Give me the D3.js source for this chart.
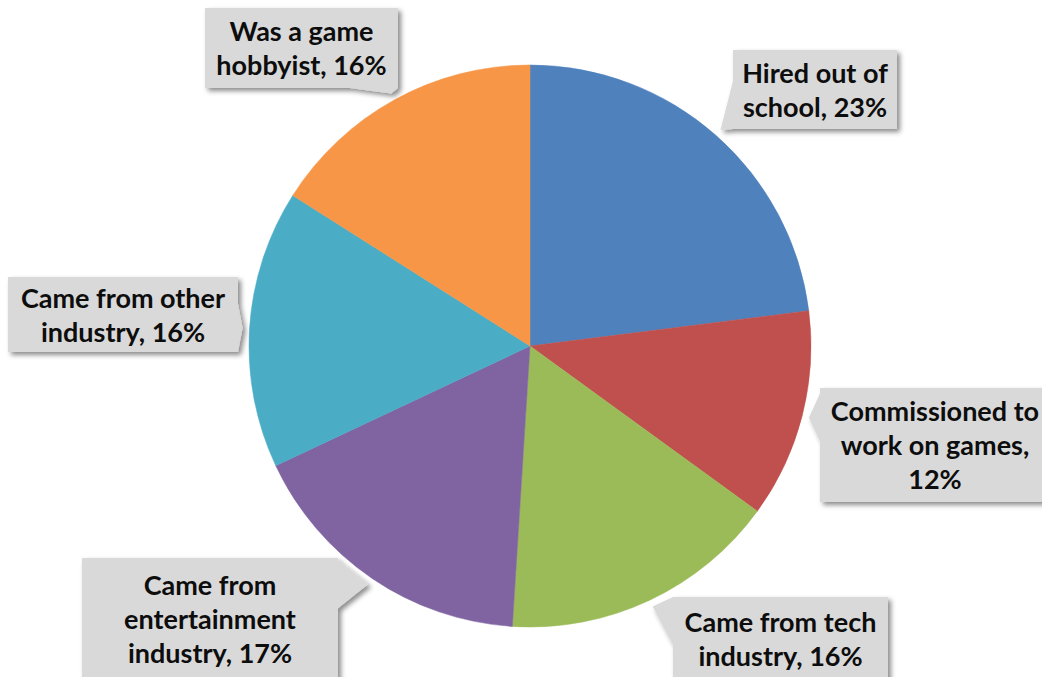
<!DOCTYPE html>
<html lang="en">
<head>
<meta charset="UTF-8">
<title>Game career origins</title>
<style>
    body { margin: 0; background: #fff; }
    svg { display: block; }
    .callout text { font-family: Lato, "Open Sans", sans-serif; font-weight: 700; fill: #0d0d0d; }
</style>
</head>
<body>
<svg id="chart" width="1042" height="677"></svg>
<script src="https://d3js.org/d3.v7.min.js"></script>
<script>
// data (clockwise from 12 o'clock)
var categories = ['Hired out of school', 'Commissioned to work on games', 'Came from tech industry',
                  'Came from entertainment industry', 'Came from other industry', 'Was a game hobbyist'];
var values = [23, 12, 16, 17, 16, 16];
var labelLines = [
    ['Hired out of', 'school, 23%'],
    ['Commissioned to', 'work on games,', '12%'],
    ['Came from tech', 'industry, 16%'],
    ['Came from', 'entertainment', 'industry, 17%'],
    ['Came from other', 'industry, 16%'],
    ['Was a game', 'hobbyist, 16%']
];
var colors = ['#4f81bd', '#c0504d', '#9bbb59', '#8064a2', '#4bacc6', '#f79646'];

// callout boxes: [left, top, width, height]
var boxes = [
    [733, 50, 164, 79],
    [820, 388, 230, 114],
    [673, 597, 215, 84],
    [82, 558, 256, 122],
    [8, 277, 230, 75],
    [205, 8, 193, 80]
];

var cx = 530, cy = 346, r = 281;
var svg = d3.select('#chart');

var defs = svg.append('defs');
var f = defs.append('filter').attr('id', 'shadow').attr('x', '-10%').attr('y', '-10%').attr('width', '130%').attr('height', '130%');
f.append('feDropShadow').attr('dx', 3).attr('dy', 3).attr('stdDeviation', 2.5)
    .attr('flood-color', '#000').attr('flood-opacity', 0.45);

var pie = d3.pie().sort(null).value(function(d) { return d; });
var arcs = pie(values);
var arc = d3.arc().innerRadius(0).outerRadius(r);

var g = svg.append('g').attr('transform', 'translate(' + cx + ',' + cy + ')');
g.selectAll('path')
    .data(arcs)
    .enter().append('path')
    .attr('d', arc)
    .attr('fill', function(d, i) { return colors[i]; })
    .attr('stroke', function(d, i) { return colors[i]; })
    .attr('stroke-width', 0.5);

// callouts with a pointer to the outer middle of each slice
arcs.forEach(function(d, i) {
    var a = (d.startAngle + d.endAngle) / 2;
    var tx = cx + (r + 7) * Math.sin(a), ty = cy - (r + 7) * Math.cos(a);
    var b = boxes[i], x0 = b[0], y0 = b[1], x1 = b[0] + b[2], y1 = b[1] + b[3];
    var dx = tx < x0 ? x0 - tx : (tx > x1 ? tx - x1 : 0);
    var dy = ty < y0 ? y0 - ty : (ty > y1 ? ty - y1 : 0);
    var w = 24, pts;
    if (dx >= dy) {
        var ex = tx < x0 ? x0 : x1;
        var my = Math.max(y0 + w, Math.min(y1 - w, ty));
        pts = [[ex, my - w], [tx, ty], [ex, my + w]];
    } else {
        var ey = ty < y0 ? y0 : y1;
        var mx = Math.max(x0 + w, Math.min(x1 - w, tx));
        pts = [[mx - w, ey], [tx, ty], [mx + w, ey]];
    }
    var grp = svg.append('g').attr('class', 'callout');
    var shape = grp.append('g').attr('filter', 'url(#shadow)');
    shape.append('rect').attr('x', x0).attr('y', y0).attr('width', b[2]).attr('height', b[3]).attr('fill', '#d9d9d9');
    shape.append('path').attr('d', d3.line()(pts) + 'Z').attr('fill', '#d9d9d9');
    var lines = labelLines[i];
    var lh = 34;
    var midY = y0 + b[3] / 2;
    lines.forEach(function(t, k) {
        grp.append('text')
            .attr('x', x0 + b[2] / 2)
            .attr('y', midY + (k - (lines.length - 1) / 2) * lh)
            .attr('dy', '0.38em')
            .attr('text-anchor', 'middle')
            .style('font-size', '27px')
            .text(t);
    });
});
</script>
</body>
</html>
